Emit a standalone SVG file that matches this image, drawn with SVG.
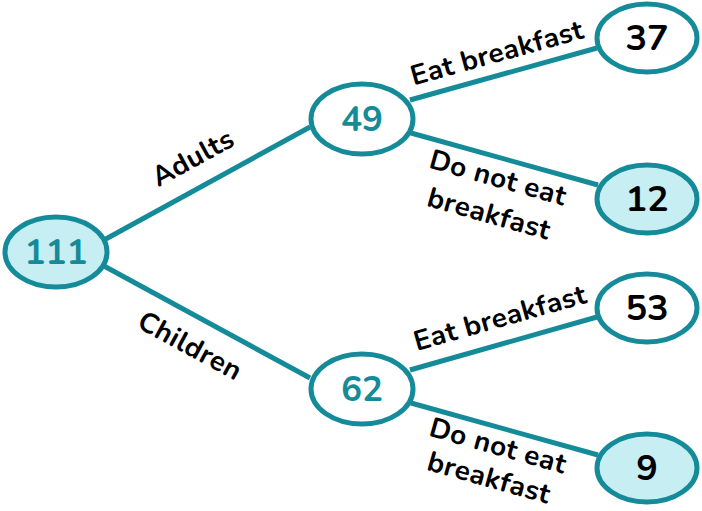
<svg xmlns="http://www.w3.org/2000/svg" width="702" height="511" viewBox="0 0 702 511">
<style>
.n{stroke:#158b99;stroke-width:5;fill:#fff}
.h{fill:#c6eef3}
.e{stroke:#158b99;stroke-width:5;fill:none}
.t{font-family:"Nunito","Lato","Open Sans",sans-serif;font-weight:700;text-anchor:middle;dominant-baseline:central}
.v{font-size:36px;fill:#000}
.vt{font-size:35px;fill:#158b99}
.l{font-size:28px;fill:#000;letter-spacing:0.4px}
</style>
<rect width="702" height="511" fill="#fff"/>
<g id="connectors">
<line class="e" x1="104" y1="240" x2="310" y2="127"/>
<line class="e" x1="104" y1="266" x2="310" y2="378"/>
<line class="e" x1="410" y1="100" x2="597" y2="48"/>
<line class="e" x1="411" y1="133" x2="598" y2="185"/>
<line class="e" x1="410" y1="370" x2="597" y2="317"/>
<line class="e" x1="411" y1="403" x2="598" y2="455"/>
<text class="t l" transform="translate(193,158) rotate(-28.7)">Adults</text>
<text class="t l" transform="translate(190,346) rotate(28.5)">Children</text>
<text class="t l" transform="translate(497,53) rotate(-15.5)">Eat breakfast</text>
<text class="t l" transform="translate(498,178) rotate(15.7)">Do not eat</text>
<text class="t l" transform="translate(489,214) rotate(15.7)">breakfast</text>
<text class="t l" transform="translate(500,318) rotate(-15.8)">Eat breakfast</text>
<text class="t l" transform="translate(498,446) rotate(15.7)">Do not eat</text>
<text class="t l" transform="translate(489,478) rotate(15.7)">breakfast</text>
</g>
<g id="n111"><ellipse class="n h" cx="56" cy="252" rx="51" ry="35"/><text class="t vt" x="56" y="252">111</text></g>
<g id="n49"><ellipse class="n" cx="362" cy="119" rx="51" ry="35"/><text class="t vt" x="362" y="119">49</text></g>
<g id="n62"><ellipse class="n" cx="362" cy="389" rx="51" ry="35"/><text class="t vt" x="362" y="389">62</text></g>
<g id="n37"><ellipse class="n" cx="647" cy="38" rx="50" ry="34"/><text class="t v" x="647" y="38">37</text></g>
<g id="n12"><ellipse class="n h" cx="647" cy="199" rx="50" ry="34"/><text class="t v" x="647" y="199">12</text></g>
<g id="n53"><ellipse class="n" cx="647" cy="308" rx="50" ry="34"/><text class="t v" x="647" y="308">53</text></g>
<g id="n9"><ellipse class="n h" cx="647" cy="468" rx="50" ry="34"/><text class="t v" x="647" y="468">9</text></g>
</svg>
